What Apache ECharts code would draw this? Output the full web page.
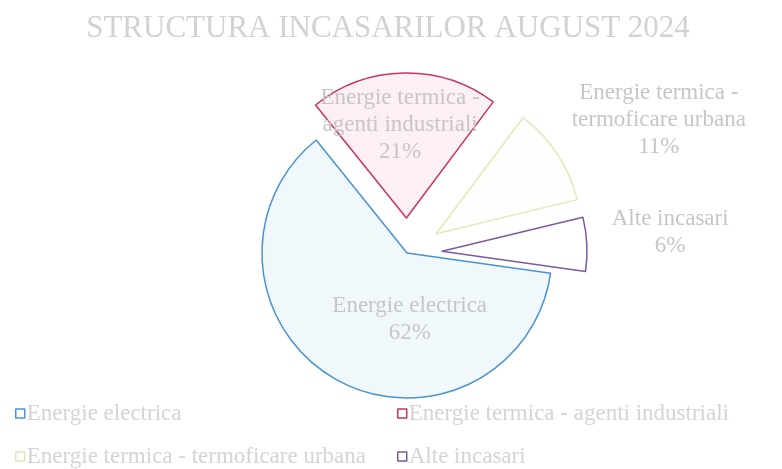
<!DOCTYPE html>
<html>
<head>
<meta charset="utf-8">
<script src="https://cdn.jsdelivr.net/npm/echarts@6/dist/echarts.min.js"></script>
<style>
  html, body { margin: 0; padding: 0; background: #fff; }
  #chart { width: 782px; height: 469px; }
</style>
</head>
<body>
<div id="chart"></div>
<script>
// Structura incasarilor, august 2024 (procente)
const categories = [
  'Energie electrica',
  'Energie termica - agenti industriali',
  'Energie termica - termoficare urbana',
  'Alte incasari'
];
const labelNames = [
  'Energie electrica',
  'Energie termica -\nagenti industriali',
  'Energie termica -\ntermoficare urbana',
  'Alte incasari'
];
const values = [62, 21, 11, 6];
const exploded = [false, true, true, true];

const borderColors = ['#4a93d2', '#c8375a', '#dcebb5', '#7a5c9e'];
const fillColors = ['#f1f8fc', '#fcf0f4', '#fefffc', '#ffffff'];
const insideLabel = [true, true, false, false];

// nudges so the labels sit where Excel put them
const labelNudge = [[40, 1], [-5, -18], [-31, -22], [-24, -11]];
// legend grid: two columns, two rows
const legendSpots = [[10, 397], [392, 397], [10, 440], [392, 440]];

const serif = '"Liberation Serif", "DejaVu Serif", serif';
const chart = echarts.init(document.getElementById('chart'));

const seriesData = categories.map((name, i) => ({
  name,
  value: values[i],
  selected: exploded[i],
  itemStyle: { color: fillColors[i], borderColor: borderColors[i], borderWidth: 1.5 },
  label: { position: insideLabel[i] ? 'inside' : 'outside' },
  labelLine: { show: false, length: 22, length2: 22 }
}));

const legends = categories.map((name, i) => ({
  data: [name],
  left: legendSpots[i][0],
  top: legendSpots[i][1],
  itemWidth: 9, itemHeight: 9,
  icon: 'rect',
  itemStyle: { color: '#fff', borderWidth: 1.5 },
  textStyle: { fontFamily: serif, fontSize: 23, color: '#d4d4d4', padding: [0, 0, 0, -3] }
}));

chart.setOption({
  backgroundColor: '#fff',
  title: {
    text: 'STRUCTURA INCASARILOR AUGUST 2024',
    left: 383,
    textAlign: 'center',
    top: 8,
    textStyle: { fontFamily: serif, fontWeight: 'normal', fontSize: 31, color: '#d2d2d2' }
  },
  legend: legends,
  series: [{
    type: 'pie',
    center: [407, 253],
    radius: 145,
    startAngle: -8,
    clockwise: true,
    selectedMode: 'multiple',
    selectedOffset: 35,
    animation: false,
    data: seriesData,
    label: {
      formatter: p => labelNames[p.dataIndex] + '\n' + p.value + '%',
      fontFamily: serif,
      fontSize: 23,
      lineHeight: 27,
      color: '#c6c6c6'
    },
    labelLayout: p => {
      const [nx, ny] = labelNudge[p.dataIndex];
      return insideLabel[p.dataIndex]
        ? { dx: nx, dy: ny }
        : { align: 'center', dx: p.labelRect.width / 2 + nx, dy: ny };
    },
    emphasis: { disabled: true }
  }]
});

window.addEventListener('resize', () => chart.resize());
</script>
</body>
</html>
